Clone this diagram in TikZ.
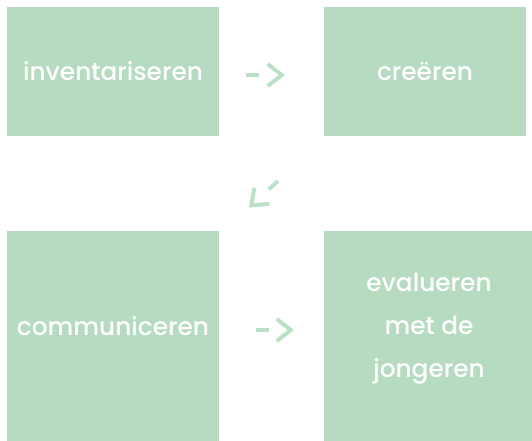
\documentclass[tikz,border=0pt]{standalone}
\usepackage{fontspec}
\setmainfont{Poppins Medium}
\usetikzlibrary{arrows.meta}
\definecolor{boxgreen}{RGB}{182,219,193}
\definecolor{arrgreen}{RGB}{186,224,198}
\tikzset{
  box/.style={fill=boxgreen, inner sep=0pt, anchor=north west},
  lbl/.style={text=white, font=\fontsize{24.8}{43}\selectfont, align=center, inner sep=0pt},
  flow/.style={draw=arrgreen, line width=4pt, dash pattern=on 12.5pt off 30pt,
    -{Straight Barb[length=14pt,width=22pt,line width=4pt]}}
}
\begin{document}
\begin{tikzpicture}[x=1pt,y=-1pt]
\useasboundingbox (0,0) rectangle (532,441);
\node[box, minimum width=212pt, minimum height=129pt] (b1) at (7,7) {};
\node[box, minimum width=202pt, minimum height=129pt] (b2) at (324,7) {};
\node[box, minimum width=212pt, minimum height=210pt] (b3) at (7,231) {};
\node[box, minimum width=208pt, minimum height=210pt] (b4) at (324,231) {};
\node[lbl] (t1) at (113,71.5) {inventariseren};
\node[lbl] (t2) at (425,71.5) {creëren};
\node[lbl] (t3) at (113,326) {communiceren};
\node[lbl] (t4) at (429,328.5) {evalueren\\met de\\jongeren};
\coordinate (a1s) at (246,75);
\coordinate (a1e) at (285,75);
\coordinate (a2s) at (278,181);
\coordinate (a2e) at (249,207.5);
\coordinate (a3s) at (256,330);
\coordinate (a3e) at (294,330);
\draw[flow] (a1s) -- (a1e);
\draw[flow] (a2s) -- (a2e);
\draw[flow] (a3s) -- (a3e);
\end{tikzpicture}
\end{document}
